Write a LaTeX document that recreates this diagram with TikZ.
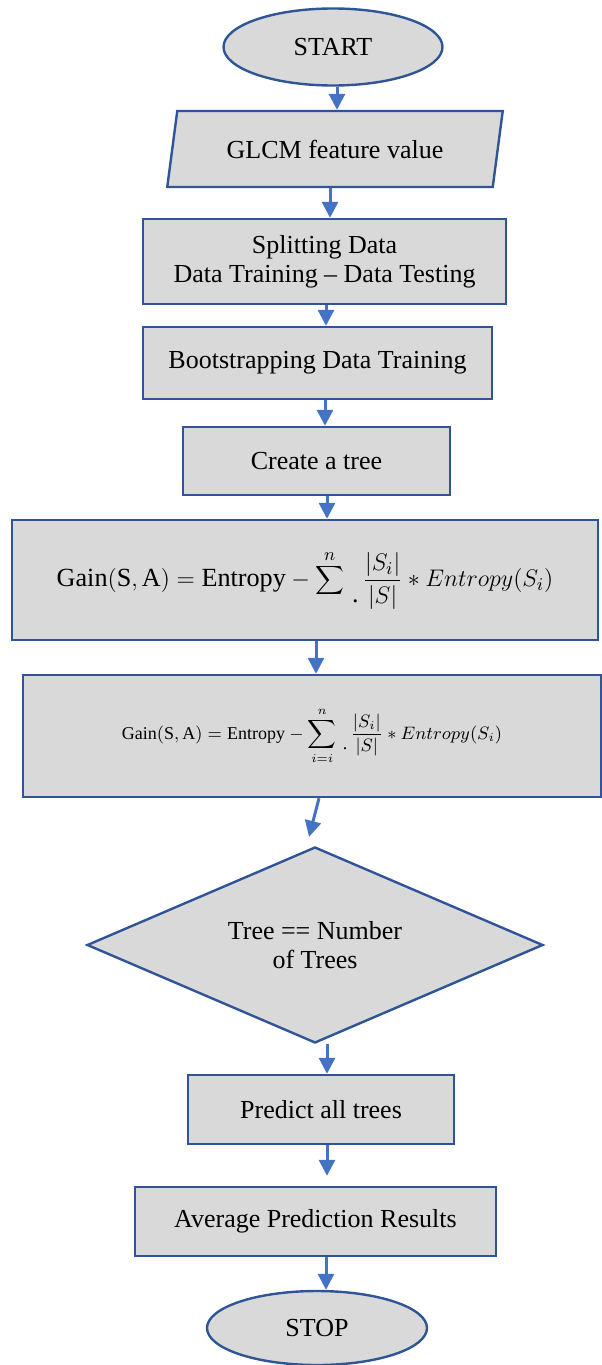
\documentclass[tikz,border=0pt]{standalone}
\usepackage{fontspec}
\setmainfont{Liberation Serif}
\usetikzlibrary{shapes.geometric,arrows.meta}
\definecolor{boxfill}{HTML}{D9D9D9}
\definecolor{boxline}{HTML}{2F5597}
\definecolor{arrowblue}{HTML}{4472C4}
\newcommand{\lowdot}{\,\raisebox{-1.3ex}{.}\,}
\tikzset{
	base/.style={draw=boxline, fill=boxfill, line width=1.2pt, align=center, inner sep=2pt,
		font=\fontsize{13}{14.5}\selectfont},
	startstop/.style={base, ellipse},
	io/.style={base, trapezium, trapezium left angle=75, trapezium right angle=105,
		trapezium stretches=true},
	process/.style={base, rectangle},
	decision/.style={base, diamond, inner sep=0pt, aspect=2.33},
	flow/.style={draw=arrowblue, line width=1.5pt, -{Triangle[length=8pt,width=8pt]}}
}
\begin{document}
\begin{tikzpicture}[x=0.5pt, y=-0.5pt]
	\useasboundingbox (0,0) rectangle (601,1365);
	%nodes
	\node[startstop, minimum width=109.5pt, minimum height=38.5pt] (start) at (333,47) {START};
	\node[io, minimum width=168pt, minimum height=38pt] (glcm) at (335,149) {GLCM feature value};
	\node[process, minimum width=181.5pt, minimum height=42.5pt] (split) at (324.5,261.5)
		{Splitting Data\\Data Training -- Data Testing};
	\node[process, minimum width=174.5pt, minimum height=36pt] (boot) at (317.5,363)
		{Bootstrapping Data Training};
	\node[process, minimum width=133.5pt, minimum height=34pt] (tree) at (316.5,461) {Create a tree};
	\node[process, minimum width=293pt, minimum height=60pt, font=\fontsize{13.1}{15.5}\selectfont]
		(gainA) at (305,580)
		{$\mathrm{Gain(S,A)} = \mathrm{Entropy} - \displaystyle\sum^{n}\lowdot\frac{|S_i|}{|S|} * Entropy(S_i)$};
	\node[process, minimum width=289pt, minimum height=61pt, font=\fontsize{9}{11}\selectfont]
		(gainB) at (312,736)
		{$\mathrm{Gain(S,A)} = \mathrm{Entropy} - \displaystyle\sum_{i=i}^{n}\lowdot\frac{|S_i|}{|S|} * Entropy(S_i)$};
	\node[decision, minimum width=228pt, minimum height=98pt] (dec) at (315,945)
		{Tree == Number\\of Trees};
	\node[process, minimum width=133pt, minimum height=34.5pt] (predict) at (321,1109.5) {Predict all trees};
	\node[process, minimum width=180.5pt, minimum height=34.5pt] (avg) at (315.5,1221.5)
		{Average Prediction Results};
	\node[startstop, minimum width=110pt, minimum height=37pt] (stop) at (317,1328) {STOP};
	%arrows
	\foreach \a/\b/\dx in {start/glcm/2, glcm/split/-2.5, split/boot/0.75, boot/tree/3.75,
		tree/gainA/5.25, gainA/gainB/5.5, dec/predict/6, avg/stop/5.25}
	\draw[flow] ([xshift=\dx pt]\a.south) -- ([xshift=\dx pt]\a.south |- \b.north);
	\draw[flow] ([xshift=3.5pt]gainB.south) -- ([xshift=-3pt,yshift=4.5pt]dec.north);
	\draw[flow] ([xshift=3pt]predict.south) -- ([xshift=3pt,yshift=5pt]predict.south |- avg.north);
\end{tikzpicture}
\end{document}
